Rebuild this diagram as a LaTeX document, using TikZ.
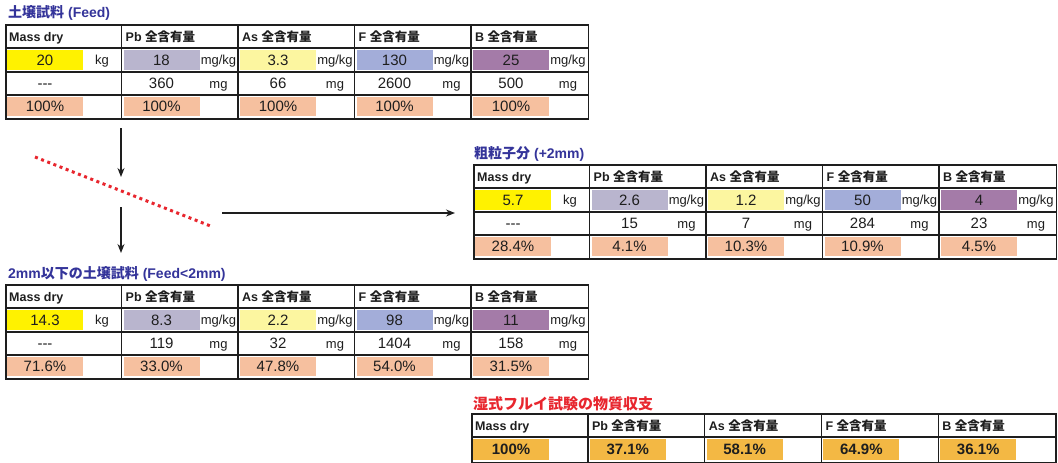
\documentclass[tikz,border=0pt]{standalone}
\usepackage{fontspec}
\setmainfont{Liberation Sans}
\newfontfamily\jp{Noto Sans CJK JP}
\usetikzlibrary{arrows.meta}
\definecolor{cMass}{HTML}{FFF200}
\definecolor{cPb}{HTML}{B9B5CE}
\definecolor{cAs}{HTML}{FCF6A0}
\definecolor{cF}{HTML}{A3ADD9}
\definecolor{cB}{HTML}{A47BA8}
\definecolor{cPct}{HTML}{F6C09F}
\definecolor{cGold}{HTML}{F3B844}
\definecolor{cTitle}{HTML}{34349A}
\definecolor{cRed}{HTML}{E8262E}
\definecolor{cInk}{HTML}{1E1E1E}
\newcommand\J[1]{{\jp #1}}
\tikzset{
  hdr/.style={anchor=base west, inner sep=0pt, text=cInk, font=\bfseries\fontsize{12.5}{13}\selectfont},
  num/.style={anchor=base, inner sep=0pt, text=cInk, font=\fontsize{15}{15}\selectfont},
  bnum/.style={anchor=base, inner sep=0pt, text=cInk, font=\bfseries\fontsize{15}{15}\selectfont},
  unit/.style={anchor=base, inner sep=0pt, text=cInk, font=\fontsize{13}{13}\selectfont},
  gridbox/.style={draw=cInk, line width=1.7pt, inner sep=0pt},
  gridline/.style={draw=cInk, line width=1.4pt},
  ttl/.style={anchor=west, inner sep=0pt, text=cTitle, font=\bfseries\fontsize{14}{14}\selectfont},
  arr/.style={-{Stealth[length=9pt,width=7pt]}, line width=1.3pt, draw=cInk},
  reddots/.style={draw=cRed, line width=3pt, dash pattern=on 3pt off 3.6pt}
}
% one column of a 4-row table
\newcommand\dcol[8]{%
  \fill[#4] (2,26) rectangle (78,46);
  \fill[cPct] (2,73) rectangle (78,92);
  \node[hdr] (#1h) at (4,17) {#2};
  \node[num] (#1v) at (40,41.4) {#3};
  \node[unit] (#1u) at (97,40.8) {#5};
  \node[num] (#1a) at (40,64.9) {#6};
  \if\relax\detokenize{#7}\relax\else\node[unit] (#1au) at (97,64.3) {#7};\fi
  \node[num] (#1p) at (40,87.9) {#8};
}
\newcommand\tgrid[3]{%
  \node[gridbox, anchor=north west, minimum width=582.5pt, minimum height=94pt] (#1) at (#2,#3) {};
  \begin{scope}[shift={(#2,#3)}]
    \foreach \yy in {24,48,71} \draw[gridline] (0,\yy) -- (582.5,\yy);
    \foreach \xx in {1,2,3,4} \draw[gridline] (\xx*116.5,0) -- (\xx*116.5,94);
  \end{scope}}
\newcommand\mcol[3]{%
  \fill[cGold] (2,26) rectangle (78,47);
  \node[hdr] (#1h) at (4,17) {#2};
  \node[bnum] (#1p) at (40,41.9) {#3};
}
\newcommand\dashes{-{}-{}-}
\begin{document}
\begin{tikzpicture}[x=1pt,y=-1pt]
\useasboundingbox[fill=white] (0,0) rectangle (1058,463);

% ---------- Table 1 : Feed ----------
\node[ttl] (ttl1) at (8,13) {\J{土壌試料} (Feed)};
\begin{scope}[shift={(5,24)}]
  \dcol{ta}{Mass dry}{20}{cMass}{kg}{\dashes}{}{100\%}
  \begin{scope}[shift={(116.5,0)}]\dcol{tb}{Pb \J{全含有量}}{18}{cPb}{mg/kg}{360}{mg}{100\%}\end{scope}
  \begin{scope}[shift={(233,0)}]\dcol{tc}{As \J{全含有量}}{3.3}{cAs}{mg/kg}{66}{mg}{100\%}\end{scope}
  \begin{scope}[shift={(349.5,0)}]\dcol{td}{F \J{全含有量}}{130}{cF}{mg/kg}{2600}{mg}{100\%}\end{scope}
  \begin{scope}[shift={(466,0)}]\dcol{te}{B \J{全含有量}}{25}{cB}{mg/kg}{500}{mg}{100\%}\end{scope}
\end{scope}
\tgrid{T1}{5}{24}

% ---------- Table 2 : coarse (+2mm) ----------
\node[ttl] (ttl2) at (474,154) {\J{粗粒子分} (+2mm)};
\begin{scope}[shift={(473,164)}]
  \dcol{ra}{Mass dry}{5.7}{cMass}{kg}{\dashes}{}{28.4\%}
  \begin{scope}[shift={(116.5,0)}]\dcol{rb}{Pb \J{全含有量}}{2.6}{cPb}{mg/kg}{15}{mg}{4.1\%}\end{scope}
  \begin{scope}[shift={(233,0)}]\dcol{rc}{As \J{全含有量}}{1.2}{cAs}{mg/kg}{7}{mg}{10.3\%}\end{scope}
  \begin{scope}[shift={(349.5,0)}]\dcol{rd}{F \J{全含有量}}{50}{cF}{mg/kg}{284}{mg}{10.9\%}\end{scope}
  \begin{scope}[shift={(466,0)}]\dcol{re}{B \J{全含有量}}{4}{cB}{mg/kg}{23}{mg}{4.5\%}\end{scope}
\end{scope}
\tgrid{T2}{473}{164}

% ---------- Table 3 : Feed<2mm ----------
\node[ttl] (ttl3) at (8,274) {2mm\J{以下の土壌試料} (Feed<2mm)};
\begin{scope}[shift={(5,284)}]
  \dcol{ba}{Mass dry}{14.3}{cMass}{kg}{\dashes}{}{71.6\%}
  \begin{scope}[shift={(116.5,0)}]\dcol{bb}{Pb \J{全含有量}}{8.3}{cPb}{mg/kg}{119}{mg}{33.0\%}\end{scope}
  \begin{scope}[shift={(233,0)}]\dcol{bc}{As \J{全含有量}}{2.2}{cAs}{mg/kg}{32}{mg}{47.8\%}\end{scope}
  \begin{scope}[shift={(349.5,0)}]\dcol{bd}{F \J{全含有量}}{98}{cF}{mg/kg}{1404}{mg}{54.0\%}\end{scope}
  \begin{scope}[shift={(466,0)}]\dcol{be}{B \J{全含有量}}{11}{cB}{mg/kg}{158}{mg}{31.5\%}\end{scope}
\end{scope}
\tgrid{T3}{5}{284}

% ---------- Table 4 : mass balance ----------
\node[ttl, text=cRed, font=\bfseries\fontsize{15}{15}\selectfont] (ttl4) at (473,404) {\J{湿式フルイ試験の物質収支}};
\begin{scope}[shift={(471,413)}]
  \mcol{ma}{Mass dry}{100\%}
  \begin{scope}[shift={(116.8,0)}]\mcol{mb}{Pb \J{全含有量}}{37.1\%}\end{scope}
  \begin{scope}[shift={(233.6,0)}]\mcol{mc}{As \J{全含有量}}{58.1\%}\end{scope}
  \begin{scope}[shift={(350.4,0)}]\mcol{md}{F \J{全含有量}}{64.9\%}\end{scope}
  \begin{scope}[shift={(467.2,0)}]\mcol{me}{B \J{全含有量}}{36.1\%}\end{scope}
\end{scope}
\node[gridbox, anchor=north west, minimum width=584pt, minimum height=49pt] (T4) at (471,413) {};
\draw[gridline] (T4.west |- 0,437) -- (T4.east |- 0,437);
\foreach \xx in {1,2,3,4} \draw[gridline] (471+\xx*116.8,413) -- (471+\xx*116.8,462);

% ---------- connectors ----------
\coordinate (d1s) at (121,128);
\coordinate (d1e) at (121,177);
\coordinate (d2s) at (121,207);
\coordinate (d2e) at (121,253);
\coordinate (hs) at (222,213);
\coordinate (he) at (455,213);
\coordinate (cutA) at (35,157);
\coordinate (cutB) at (213,227);
\draw[arr] (d1s) -- (d1e);
\draw[arr] (d2s) -- (d2e);
\draw[arr] (hs) -- (he);
\draw[reddots] (cutA) -- (cutB);
\end{tikzpicture}
\end{document}
